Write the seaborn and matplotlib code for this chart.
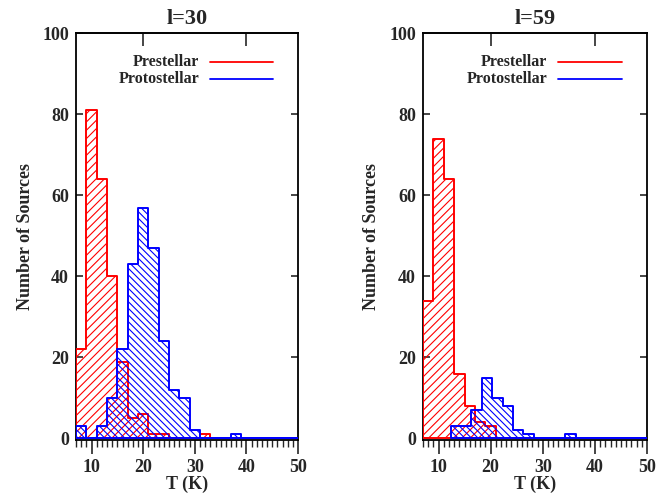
import numpy as np
import matplotlib
matplotlib.use("Agg")
import matplotlib.pyplot as plt
import seaborn as sns
from matplotlib.ticker import MultipleLocator

# temperature bins (K), 2 K wide
red_edges = np.arange(7, 52, 2)            # 7 .. 51
blue_edges_l30 = np.arange(7, 52, 2)
blue_edges_l59 = np.arange(12.3, 51, 2)    # 12.3 .. 50.3

# counts per bin
red_l30 = [22, 81, 64, 40, 19, 5, 6, 1, 1, 0, 0, 0, 1, 0, 0, 0, 0, 0, 0, 0, 0, 0]
blue_l30 = [3, 0, 3, 10, 22, 43, 57, 47, 24, 12, 10, 2, 0, 0, 0, 1, 0, 0, 0, 0, 0, 0]
red_l59 = [34, 74, 64, 16, 8, 4, 3, 0, 0, 0, 0, 0, 0, 0, 0, 0, 0, 0, 0, 0, 0, 0]
blue_l59 = [3, 3, 7, 15, 10, 8, 2, 1, 0, 0, 0, 1, 0, 0, 0, 0, 0, 0, 0]

titles = ["l=30", "l=59"]
labels = ["Prestellar", "Protostellar"]
colors = ["#ff0000", "#0000ff"]
hatches = ["////", "\\\\\\\\\\"]

sns.set_style("ticks")
plt.rcParams["font.family"] = ["Liberation Serif", "DejaVu Serif"]
plt.rcParams["font.weight"] = "bold"
plt.rcParams["font.size"] = 13
plt.rcParams["axes.labelweight"] = "bold"
plt.rcParams["hatch.linewidth"] = 0.8
plt.rcParams["axes.linewidth"] = 1.3


def hist_step(ax, edges, counts, color, hatch):
    edges = [float(e) for e in edges]
    centers = [(a + b) / 2 for a, b in zip(edges[:-1], edges[1:])]
    sns.histplot(x=centers, weights=counts, bins=edges, element="step",
                 fill=True, color=color, facecolor="none", edgecolor=color,
                 hatch=hatch, linewidth=1.4, zorder=3, ax=ax)


fig = plt.figure(figsize=(6.67, 4.95), dpi=100)
axes = [fig.add_axes([0.114, 0.1117, 0.333, 0.821]),
        fig.add_axes([0.634, 0.1117, 0.336, 0.821])]

panels = [(red_l30, red_edges, blue_l30, blue_edges_l30),
          (red_l59, red_edges, blue_l59, blue_edges_l59)]

for ax, title, (rc, re_, bc, be) in zip(axes, titles, panels):
    hist_step(ax, re_, rc, colors[0], hatches[0])
    hist_step(ax, be, bc, colors[1], hatches[1])

    ax.set_xlim(7, 50)
    ax.set_ylim(-0.3, 100)
    ax.xaxis.set_major_locator(MultipleLocator(10))
    ax.xaxis.set_minor_locator(MultipleLocator(1))
    ax.yaxis.set_major_locator(MultipleLocator(20))
    # bottom ticks hang below the axis, top ticks point inward
    ax.tick_params(axis="x", which="major", direction="out", length=10,
                   width=1.2, top=False, pad=4)
    ax.tick_params(axis="x", which="minor", direction="out", length=5,
                   width=1.0, top=False)
    ax.tick_params(axis="y", which="major", direction="in", length=5,
                   width=1.2, right=True, pad=5)
    ax.secondary_xaxis("top").tick_params(axis="x", which="major",
                                          direction="in", length=9, width=1.2,
                                          labeltop=False)
    for s in ax.spines.values():
        s.set_visible(True)
        s.set_color("black")

    ax.set_title(title, fontsize=16, fontweight="bold", pad=7)
    ax.set_xlabel("T (K)", fontsize=13, fontweight="bold", labelpad=0)
    ax.set_ylabel("Number of Sources", fontsize=13, fontweight="bold")
    ax.yaxis.set_label_coords(-0.19, 0.5)

    # legend: right-aligned labels followed by line samples
    for name, col, yy in zip(labels, colors, [0.929, 0.888]):
        ax.text(0.555, yy, name, ha="right", va="center", fontsize=11.5,
                fontweight="bold", transform=ax.transAxes)
        ax.plot([0.605, 0.887], [yy, yy], color=col, lw=1.3,
                transform=ax.transAxes)

fig.savefig("out.png", dpi=100)
